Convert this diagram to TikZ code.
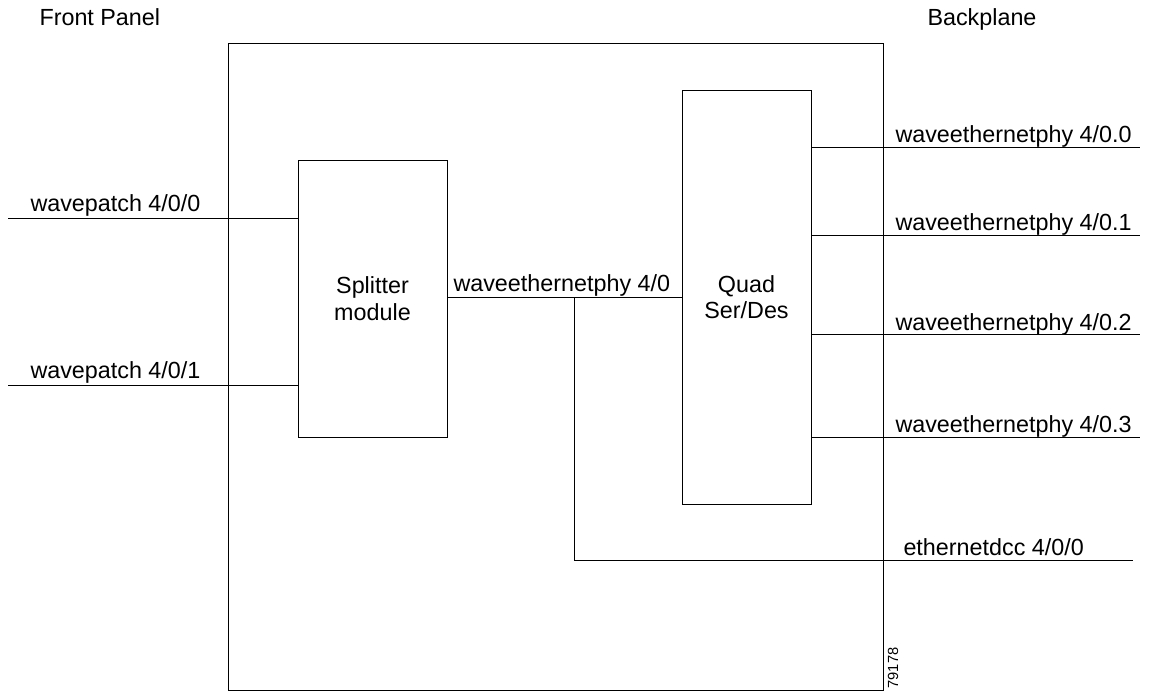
\documentclass[tikz,border=0pt]{standalone}
\usepackage{fontspec}
\setmainfont{Liberation Sans}
\begin{document}
\begin{tikzpicture}[x=0.75pt,y=-0.75pt,
  line width=0.75pt,
  every node/.style={font=\fontsize{17.5}{20}\selectfont},
  lbl/.style={anchor=base west,inner sep=0pt},
  blk/.style={draw,rectangle,inner sep=0pt,align=center},
  wire/.style={draw,line width=0.75pt}]
\useasboundingbox (0,0) rectangle (1153,694);
% boxes
\node[blk,minimum width=491.25pt,minimum height=485.25pt] (outer) at (555.5,366.5) {};
\node[blk,minimum width=111.75pt,minimum height=207.75pt] (split) at (372.5,298.5) {Splitter\\module};
\node[blk,minimum width=96.75pt,minimum height=310.5pt] (quad) at (746.5,297) {Quad\\Ser/Des};
% headings
\node[lbl] (fp) at (39,25) {Front Panel};
\node[lbl] (bp) at (927,25) {Backplane};
% left inputs
\coordinate (in0) at (8,218.5);
\coordinate (in1) at (8,385.5);
\draw[wire] (in0) -- (in0 -| split.west);
\draw[wire] (in1) -- (in1 -| split.west);
\node[lbl] (t0) at (30,211.5) {wavepatch 4/0/0};
\node[lbl] (t1) at (30,378) {wavepatch 4/0/1};
% middle connection
\coordinate (mid) at (447,297);
\draw[wire] (split.east |- mid) -- (quad.west |- mid);
\node[lbl] (tm) at (453,291) {waveethernetphy 4/0};
\coordinate (tap) at (574,297);
\coordinate (tapd) at (574,560);
\coordinate (dccend) at (1133,560);
\draw[wire] (tap) -- (tapd) -- (dccend);
\node[lbl] (tdcc) at (903,555) {ethernetdcc 4/0/0};
% right outputs
\coordinate (o0) at (1140,147);
\coordinate (o1) at (1140,235);
\coordinate (o2) at (1140,334.5);
\coordinate (o3) at (1140,437);
\draw[wire] (quad.east |- o0) -- (o0);
\draw[wire] (quad.east |- o1) -- (o1);
\draw[wire] (quad.east |- o2) -- (o2);
\draw[wire] (quad.east |- o3) -- (o3);
\node[lbl] (r0) at (895,142.5) {waveethernetphy 4/0.0};
\node[lbl] (r1) at (895,230.5) {waveethernetphy 4/0.1};
\node[lbl] (r2) at (895,330) {waveethernetphy 4/0.2};
\node[lbl] (r3) at (895,432.5) {waveethernetphy 4/0.3};
% figure number
\node[inner sep=0pt,rotate=90,font=\fontsize{11}{12}\selectfont] (fig) at (893,668) {79178};
\end{tikzpicture}
\end{document}
